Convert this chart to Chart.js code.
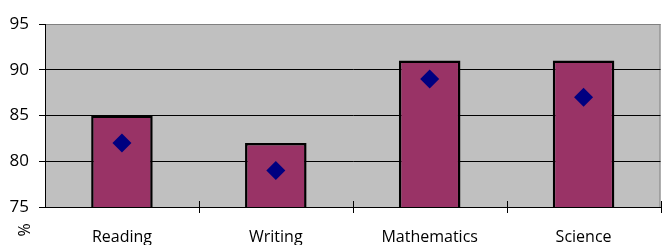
<!DOCTYPE html>
<html>
<head>
<meta charset="utf-8">
<script src="https://cdn.jsdelivr.net/npm/chart.js@4/dist/chart.umd.min.js"></script>
<style>
  html, body { margin: 0; padding: 0; background: #fff; }
  #wrap { width: 670px; height: 245px; }
</style>
</head>
<body>
<div id="wrap"><canvas id="chart" width="670" height="245"></canvas></div>
<script>
// data
const subjects = ['Reading', 'Writing', 'Mathematics', 'Science'];
const barValues = [85, 82, 91, 91];
const pointValues = [82, 79, 89, 87];
const yTicks = [75, 80, 85, 90, 95];

// gray plot area, gray frame, crossing tick marks and the "%" label
const decor = {
  id: 'decor',
  beforeDraw(chart) {
    const { ctx, chartArea: a } = chart;
    ctx.save();
    ctx.fillStyle = '#c0c0c0';
    ctx.fillRect(a.left, a.top, a.right - a.left, a.bottom - a.top);
    ctx.strokeStyle = '#808080';
    ctx.lineWidth = 1;
    ctx.strokeRect(a.left + 0.5, a.top + 0.5, a.right - a.left - 1, a.bottom - a.top);
    ctx.restore();
  },
  afterDraw(chart) {
    const { ctx, chartArea: a, scales } = chart;
    const x = scales.x;
    ctx.save();
    ctx.strokeStyle = '#000';
    ctx.lineWidth = 1;
    ctx.beginPath();
    for (let i = 1; i <= subjects.length; i++) {
      const px = Math.round(x.getPixelForValue(i - 0.5)) + 0.5;
      ctx.moveTo(px, a.bottom - 6);
      ctx.lineTo(px, a.bottom + 6);
    }
    ctx.stroke();
    ctx.translate(25, 230);
    ctx.rotate(-Math.PI / 2);
    ctx.fillStyle = '#000';
    ctx.font = '16px "Open Sans"';
    ctx.textAlign = 'center';
    ctx.textBaseline = 'middle';
    ctx.fillText('%', 0, 0);
    ctx.restore();
  }
};

new Chart(document.getElementById('chart').getContext('2d'), {
  data: {
    labels: subjects,
    datasets: [
      {
        type: 'line',
        data: pointValues,
        showLine: false,
        pointStyle: 'rectRot',
        pointRadius: 9.5,
        pointBackgroundColor: '#000080',
        pointBorderColor: '#000080',
        pointBorderWidth: 0,
        order: 0
      },
      {
        type: 'bar',
        data: barValues,
        backgroundColor: '#993366',
        borderColor: '#000',
        borderWidth: 2.5,
        borderSkipped: false,
        categoryPercentage: 1,
        barPercentage: 0.4,
        order: 1
      }
    ]
  },
  options: {
    responsive: false,
    animation: false,
    layout: { padding: { top: 24, right: 7, left: 0, bottom: 0 } },
    plugins: { legend: { display: false }, tooltip: { enabled: false } },
    scales: {
      x: {
        offset: true,
        grid: { display: false, offset: true },
        border: { display: true, color: '#000', width: 1 },
        ticks: { color: '#000', font: { family: 'Open Sans', size: 16 }, padding: 13 },
        afterFit: s => { s.height = 38; }
      },
      y: {
        min: 75,
        max: 95,
        afterBuildTicks: s => { s.ticks = yTicks.map(v => ({ value: v })); },
        grid: {
          color: c => (c.tick.value === 95 ? '#808080' : '#000'),
          tickColor: '#000',
          tickLength: 6,
          lineWidth: 1
        },
        border: { display: true, color: '#000', width: 1 },
        ticks: { color: '#000', font: { family: 'Open Sans', size: 17 }, padding: 10 },
        afterFit: s => { s.width = 45; }
      }
    }
  },
  plugins: [decor]
});
</script>
</body>
</html>
